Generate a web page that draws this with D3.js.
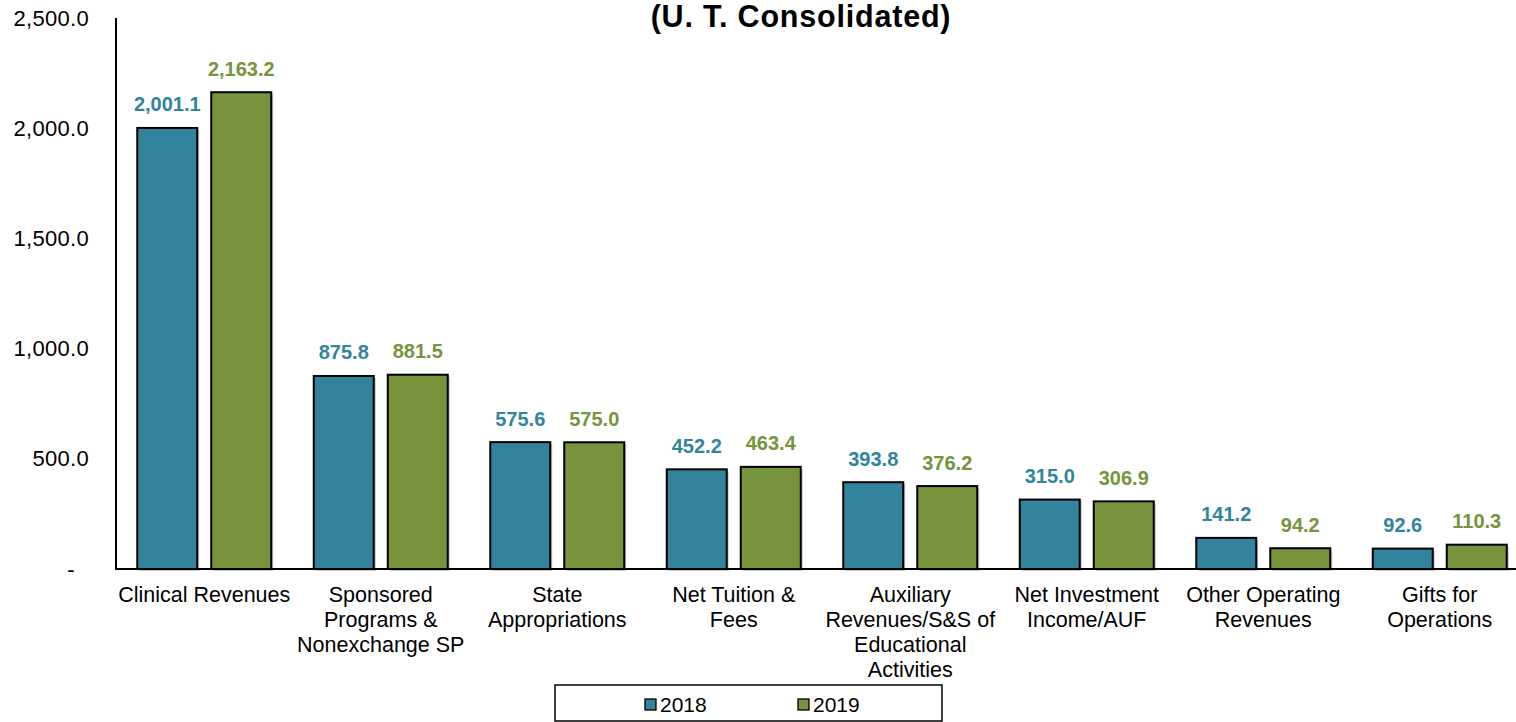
<!DOCTYPE html>
<html>
<head>
<meta charset="utf-8">
<script src="https://cdn.jsdelivr.net/npm/d3@7"></script>
<style>
  body { margin: 0; background: #fff; }
  svg { display: block; font-family: "Liberation Sans", Arial, sans-serif; }
</style>
</head>
<body>
<svg width="1516" height="722"></svg>
<script>
var categories = [
  ["Clinical Revenues"],
  ["Sponsored", "Programs &", "Nonexchange SP"],
  ["State", "Appropriations"],
  ["Net Tuition &", "Fees"],
  ["Auxiliary", "Revenues/S&S of", "Educational", "Activities"],
  ["Net Investment", "Income/AUF"],
  ["Other Operating", "Revenues"],
  ["Gifts for", "Operations"]
];
var values2018 = [2001.1, 875.8, 575.6, 452.2, 393.8, 315.0, 141.2, 92.6];
var values2019 = [2163.2, 881.5, 575.0, 463.4, 376.2, 306.9, 94.2, 110.3];
var seriesNames = ["2018", "2019"];
var yTicks = [0, 500, 1000, 1500, 2000, 2500];

var colors = ["#31849b", "#77933c"];

var svg = d3.select("svg");
var plotLeft = 116, plotRight = 1528, plotTop = 18, plotBottom = 569;

var x = d3.scaleBand()
    .domain(d3.range(categories.length))
    .range([plotLeft, plotRight])
    .paddingInner(0.248)
    .paddingOuter(0.124);

var y = d3.scaleLinear().domain([0, 2500]).range([plotBottom, plotTop]);

var fmt = d3.format(",.1f");

// title
svg.append("text")
    .attr("x", 801).attr("y", 27)
    .attr("text-anchor", "middle")
    .style("font-size", "30.5px").style("font-weight", "bold")
    .style("letter-spacing", "0.8px")
    .text("(U. T. Consolidated)");

// y axis labels
svg.selectAll(".ytick").data(yTicks).enter().append("text")
    .attr("class", "ytick")
    .attr("x", function(d) { return d === 0 ? 75 : 89; })
    .attr("y", function(d) { return y(d) + 7.5; })
    .attr("text-anchor", "end")
    .style("font-size", "22px")
    .style("letter-spacing", "0.3px")
    .text(function(d) { return d === 0 ? "-" : fmt(d); });

var band = x.bandwidth();
var barW = 60, gap = 14;
var groupW = barW * 2 + gap;

var groups = svg.selectAll(".grp").data(categories).enter().append("g")
    .attr("class", "grp")
    .attr("transform", function(d, i) {
      var c = x(i) + band / 2;
      return "translate(" + (c - groupW / 2) + ",0)";
    });

[values2018, values2019].forEach(function(vals, s) {
  var off = s * (barW + gap);
  // shadow
  groups.append("rect")
      .attr("x", off + 2).attr("width", barW)
      .attr("y", function(d, i) { return y(vals[i]) + 2; })
      .attr("height", function(d, i) { return plotBottom - y(vals[i]); })
      .attr("fill", "#c8c8c8");
  groups.append("rect")
      .attr("x", off).attr("width", barW)
      .attr("y", function(d, i) { return y(vals[i]); })
      .attr("height", function(d, i) { return plotBottom - y(vals[i]); })
      .attr("fill", colors[s])
      .attr("stroke", "#000").attr("stroke-width", 2);
  groups.append("text")
      .attr("x", off + barW / 2)
      .attr("y", function(d, i) { return y(vals[i]) - 16.5; })
      .attr("text-anchor", "middle")
      .style("font-size", "20px").style("font-weight", "bold")
      .attr("fill", colors[s])
      .text(function(d, i) { return fmt(vals[i]); });
});

// axes lines
svg.append("line").attr("x1", plotLeft).attr("x2", plotLeft).attr("y1", plotTop).attr("y2", plotBottom + 1)
    .attr("stroke", "#000").attr("stroke-width", 2);
svg.append("line").attr("x1", plotLeft - 1).attr("x2", 1516).attr("y1", plotBottom).attr("y2", plotBottom)
    .attr("stroke", "#000").attr("stroke-width", 2);

// category labels
groups.each(function(lines, i) {
  var t = d3.select(this).append("text")
      .attr("x", groupW / 2)
      .attr("y", 602)
      .attr("text-anchor", "middle")
      .style("font-size", "21.5px");
  lines.forEach(function(l, j) {
    t.append("tspan").attr("x", groupW / 2).attr("dy", j === 0 ? 0 : 25).text(l);
  });
});

// legend
var lg = svg.append("g");
lg.append("rect").attr("x", 555).attr("y", 685).attr("width", 387).attr("height", 36)
    .attr("fill", "#fff").attr("stroke", "#000").attr("stroke-width", 1.5);
var legX = [645, 798];
seriesNames.forEach(function(n, i) {
  lg.append("rect").attr("x", legX[i]).attr("y", 699).attr("width", 11).attr("height", 11)
      .attr("fill", colors[i]).attr("stroke", "#000").attr("stroke-width", 1.3);
  lg.append("text").attr("x", legX[i] + 15).attr("y", 711.5)
      .style("font-size", "21px").text(n);
});
</script>
</body>
</html>
